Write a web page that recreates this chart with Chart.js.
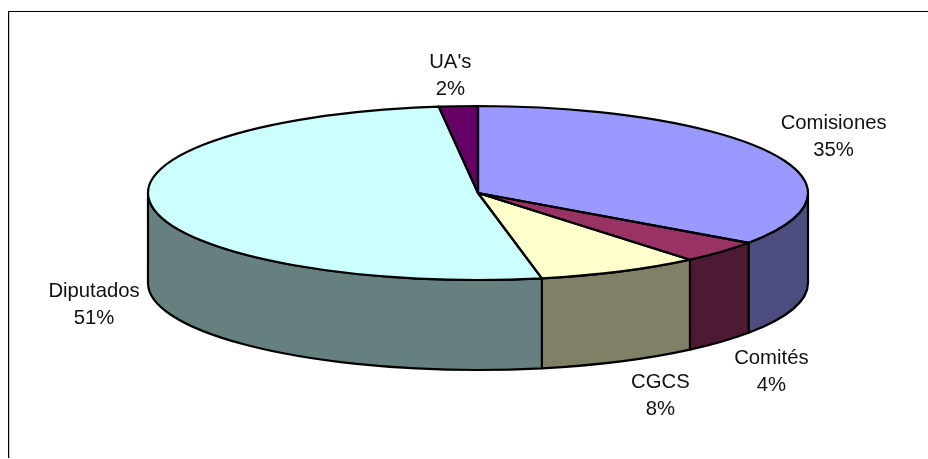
<!DOCTYPE html>
<html><head><meta charset="utf-8">
<style>html,body{margin:0;padding:0;background:#fff}canvas{display:block}</style>
<script src="https://cdn.jsdelivr.net/npm/chart.js@4/dist/chart.umd.min.js"></script>
</head><body><canvas id="c" width="928" height="459"></canvas>
<script>
const categories = ["Comisiones","Comités","CGCS","Diputados","UA's"];
const values = [34.7,4.2,8.0,51.2,1.9];
const topColors = ["#9999FF","#993366","#FFFFCC","#CCFFFF","#660066"];
const sideColors = ["#4D4D80","#4D1A33","#808066","#668080","#330033"];
// label centre as [dx,dy] from the rim point at the slice's mid-angle
const labelOffsets = [[63,-16],[50,120],[40,124],[-58,98],[-8,-30]];
const view = {cx:478, cy:193, rx:330, ry:87, depth:90};
const fontCss = '20.3px "Liberation Sans", Arial, sans-serif';

function flatten(ctx, a){
  const sx=view.rx/a.outerRadius, sy=view.ry/a.outerRadius;
  ctx.translate(view.cx,view.cy); ctx.scale(sx,sy); ctx.translate(-a.x,-a.y);
}
const pie3d = {
  id:'pie3d',
  beforeDatasetsDraw(chart){
    const ctx=chart.ctx, arcs=chart.getDatasetMeta(0).data;
    ctx.save();
    ctx.fillStyle='#fff'; ctx.fillRect(0,0,chart.width,chart.height);
    ctx.strokeStyle='#000'; ctx.lineWidth=1.2;
    ctx.beginPath(); ctx.moveTo(8.6,458); ctx.lineTo(8.6,11.5); ctx.lineTo(chart.width,11.5); ctx.stroke();
    // extruded wall, from each arc's own angles
    ctx.lineWidth=2.2; ctx.lineJoin='round';
    arcs.forEach((a,i)=>{
      const s=Math.max(a.startAngle,0), e=Math.min(a.endAngle,Math.PI);
      if(e<=s) return;
      ctx.beginPath();
      ctx.ellipse(view.cx,view.cy,view.rx,view.ry,0,s,e);
      ctx.ellipse(view.cx,view.cy+view.depth,view.rx,view.ry,0,e,s,true);
      ctx.closePath();
      ctx.fillStyle=sideColors[i]; ctx.fill(); ctx.stroke();
    });
    ctx.restore();
    ctx.save();
    flatten(ctx,arcs[0]);
  },
  afterDatasetsDraw(chart){
    const ctx=chart.ctx, arcs=chart.getDatasetMeta(0).data;
    ctx.restore();
    ctx.save();
    ctx.strokeStyle='#000'; ctx.lineWidth=2.2; ctx.lineJoin='round';
    arcs.forEach(a=>{
      ctx.beginPath();
      ctx.moveTo(view.cx,view.cy);
      ctx.ellipse(view.cx,view.cy,view.rx,view.ry,0,a.startAngle,a.endAngle);
      ctx.closePath(); ctx.stroke();
    });
    ctx.font=fontCss; ctx.fillStyle='#111'; ctx.textAlign='center'; ctx.textBaseline='middle';
    arcs.forEach((a,i)=>{
      const m=(a.startAngle+a.endAngle)/2;
      const x=view.cx+view.rx*Math.cos(m)+labelOffsets[i][0];
      const y=view.cy+view.ry*Math.sin(m)+labelOffsets[i][1];
      ctx.fillText(categories[i],x,y-13.5);
      ctx.fillText(Math.round(values[i])+'%',x,y+13.5);
    });
    ctx.restore();
  }
};
new Chart(document.getElementById('c'),{
  type:'pie',
  data:{labels:categories,datasets:[{data:values,backgroundColor:topColors,borderWidth:0}]},
  options:{responsive:false,animation:false,devicePixelRatio:1,
    plugins:{legend:{display:false},tooltip:{enabled:false},title:{display:false}}},
  plugins:[pie3d]
});
</script></body></html>
